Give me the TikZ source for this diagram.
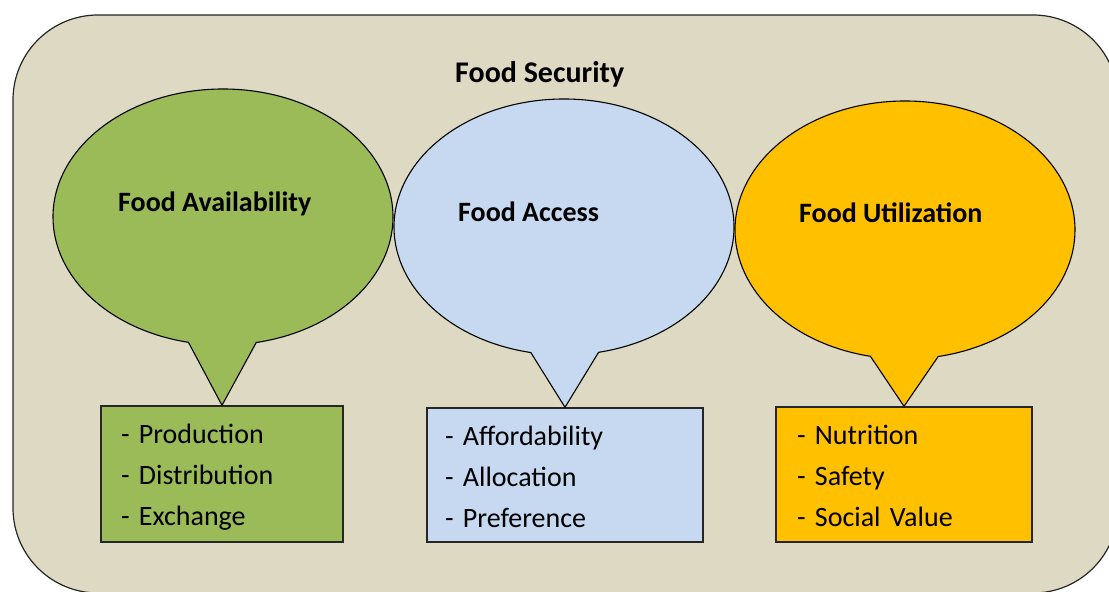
\documentclass[tikz,border=0pt]{standalone}
\usepackage{fontspec}
\setmainfont{Carlito}
\usetikzlibrary{shapes.callouts}
\definecolor{bgtan}{HTML}{DDD9C3}
\definecolor{availgreen}{HTML}{9BBB59}
\definecolor{accessblue}{HTML}{C6D9F1}
\definecolor{utilorange}{HTML}{FFC000}
\newcommand{\firststrut}[1]{\rule{0pt}{#1}}
\newcommand{\laststrut}{\rule[-7pt]{0pt}{7pt}}
\begin{document}
\begin{tikzpicture}[x=1pt,y=1pt,
  callbub/.style={ellipse callout, draw=black, line width=1.1pt, minimum width=340pt, minimum height=256pt, inner sep=0pt, callout pointer arc=23},
  listbox/.style={draw=black!85, line width=1.4pt, align=left, inner ysep=0pt, font=\fontsize{28}{41}\selectfont},
  title/.style={anchor=base west, inner sep=0pt, font=\bfseries\fontsize{28}{34}\selectfont}]
\useasboundingbox (0,0) rectangle (1109,592);
\clip (0,0) rectangle (1109,592);
\node[draw=black!85, fill=bgtan, line width=1.2pt, rounded corners=85pt, minimum width=1105pt, minimum height=578pt, outer sep=0pt, inner sep=0pt, anchor=north west] (outer) at (13,577) {};
\node[anchor=base west, inner sep=0pt, font=\bfseries\fontsize{30}{36}\selectfont] (sectitle) at (455,509) {Food Security};
\node[listbox, fill=availgreen, inner xsep=20pt, text width=202pt, minimum height=136pt] (availbox) at (222,118) {\firststrut{28pt}- Production\\- Distribution\\- Exchange\laststrut};
\node[listbox, fill=accessblue, inner xsep=18pt, text width=240pt, minimum height=134pt] (accessbox) at (565,117) {\firststrut{31pt}- Affordability\\- Allocation\\- Preference\laststrut};
\node[listbox, fill=utilorange, inner xsep=21pt, text width=214pt, minimum height=135pt] (utilbox) at (904,117.5) {\firststrut{29pt}- Nutrition\\- Safety\\- Social Value\laststrut};
\node[callbub, fill=availgreen, callout absolute pointer={(availbox.north)}] (availbub) at (223,375) {};
\node[callbub, fill=accessblue, callout absolute pointer={(accessbox.north)}] (accessbub) at (564,365) {};
\node[callbub, fill=utilorange, minimum height=258pt, callout absolute pointer={(utilbox.north)}] (utilbub) at (905,362) {};
\node[title] (availtitle) at (118,380) {Food Availability};
\node[title] (accesstitle) at (458,370) {Food Access};
\node[title] (utiltitle) at (799,369) {Food Utilization};
\end{tikzpicture}
\end{document}
